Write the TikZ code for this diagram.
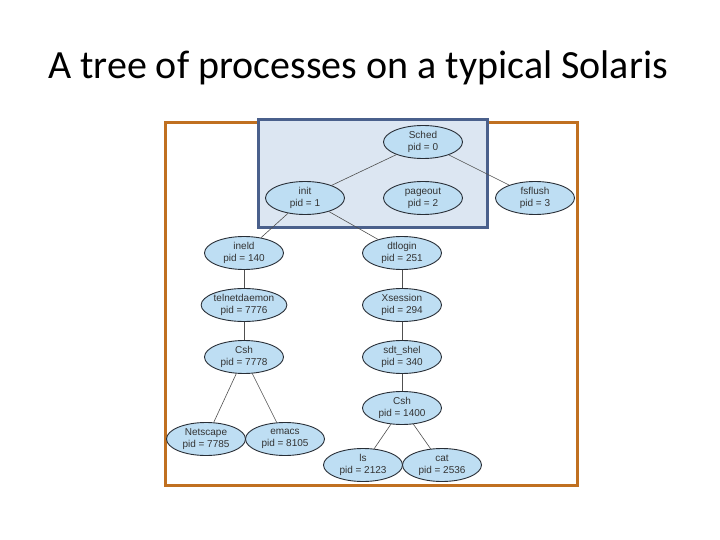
\documentclass[tikz,border=0pt]{standalone}
\usepackage{fontspec}
\setmainfont{Carlito}
\newfontfamily\nodefont{Liberation Sans}
\usetikzlibrary{shapes.geometric}
\definecolor{orangebox}{RGB}{192,112,32}
\definecolor{bluebox}{RGB}{74,96,140}
\definecolor{bluefill}{RGB}{220,230,242}
\definecolor{procfill}{RGB}{190,222,243}
\definecolor{procline}{RGB}{40,46,54}
\definecolor{edgecol}{RGB}{80,80,80}
\tikzset{
  proc/.style={ellipse, draw=procline, line width=0.9pt, fill=procfill,
    minimum width=79pt, minimum height=33pt, inner sep=0pt, align=center,
    font=\nodefont\fontsize{10}{12}\selectfont, text=black!80},
  edge/.style={draw=edgecol, line width=0.6pt}
}
\begin{document}
\begin{tikzpicture}[x=1pt,y=-1pt]
\useasboundingbox (0,0) rectangle (720,540);
\fill[white] (0,0) rectangle (720,540);
\node[anchor=base, inner sep=0pt, font=\fontsize{40}{46}\selectfont] (title) at (358,79) {A tree of processes on a typical Solaris};
\draw[orangebox, line width=3pt] (165,123) rectangle (577,485);
\draw[bluebox, line width=3pt, fill=bluefill] (258,120) rectangle (487,228);
\node[proc] (sched) at (423,142) {Sched\\pid = 0};
\node[proc] (init) at (305,198) {init\\pid = 1};
\node[proc] (pageout) at (423,198) {pageout\\pid = 2};
\node[proc] (fsflush) at (535,198) {fsflush\\pid = 3};
\node[proc] (ineld) at (244,253) {ineld\\pid = 140};
\node[proc] (dtlogin) at (402,253) {dtlogin\\pid = 251};
\node[proc] (telnet) at (244,305) {telnetdaemon\\pid = 7776};
\node[proc] (xsession) at (402,305) {Xsession\\pid = 294};
\node[proc] (csh1) at (244,357) {Csh\\pid = 7778};
\node[proc] (sdt) at (402,357) {sdt\_shel\\pid = 340};
\node[proc] (csh2) at (402,408) {Csh\\pid = 1400};
\node[proc] (netscape) at (206,439) {Netscape\\pid = 7785};
\node[proc] (emacs) at (285,439) {emacs\\pid = 8105};
\node[proc] (ls) at (363,465) {ls\\pid = 2123};
\node[proc] (cat) at (442,465) {cat\\pid = 2536};
\path[edge] (sched) -- (init);
\path[edge] (sched) -- (fsflush);
\path[edge] (init) -- (ineld);
\path[edge] (init) -- (dtlogin);
\path[edge] (ineld) -- (telnet);
\path[edge] (telnet) -- (csh1);
\path[edge] (dtlogin) -- (xsession);
\path[edge] (xsession) -- (sdt);
\path[edge] (sdt) -- (csh2);
\path[edge] (csh1) -- (netscape);
\path[edge] (csh1) -- (emacs);
\path[edge] (csh2) -- (ls);
\path[edge] (csh2) -- (cat);
\end{tikzpicture}
\end{document}
